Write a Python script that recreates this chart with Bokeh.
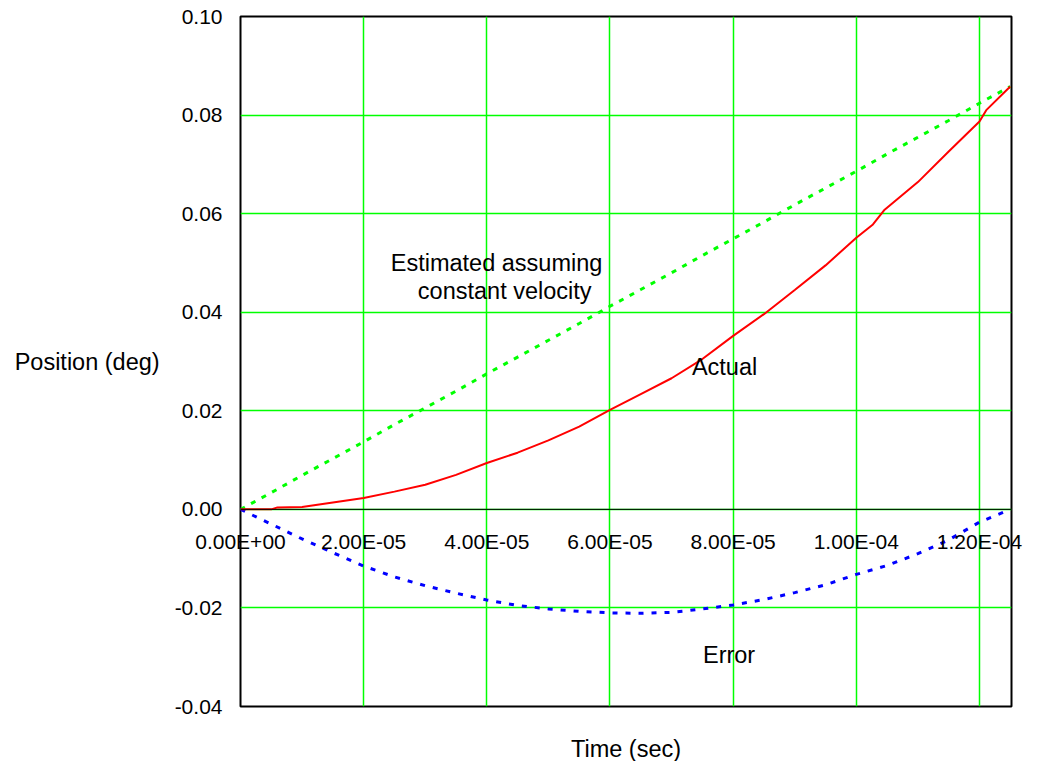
import numpy as np
from bokeh.plotting import figure
from bokeh.models import (FixedTicker, CustomJSTickFormatter,
                          NumeralTickFormatter, Label, Range1d, Span)
from bokeh.embed import file_html
from bokeh.resources import INLINE

# ---- data ----
time_us = [0, 5, 10, 15, 20, 25, 30, 35, 40, 45, 50, 55, 60, 65, 70, 75, 80,
           85, 90, 95, 100, 105, 110, 115, 120, 125]
actual_time_us = [0, 5, 6, 10, 15, 20, 25, 30, 35, 40, 45, 50, 55, 60, 65, 70,
                  75, 80, 85, 90, 95, 100, 102.7, 104.6, 110, 115, 120, 121.1,
                  125]
actual = [0.0, 0.0000, 0.0004, 0.0005, 0.0014, 0.0023, 0.0036, 0.0050, 0.0070,
          0.0094, 0.0115, 0.0140, 0.0168, 0.0202, 0.0234, 0.0266, 0.0305,
          0.0352, 0.0396, 0.0445, 0.0495, 0.0551, 0.0578, 0.0608, 0.0664,
          0.0726, 0.0787, 0.0810, 0.0858]
estimated = [0.0, 0.0034, 0.0069, 0.0103, 0.0137, 0.0172, 0.0206, 0.0240,
             0.0275, 0.0309, 0.0343, 0.0377, 0.0412, 0.0446, 0.0480, 0.0515,
             0.0549, 0.0583, 0.0618, 0.0652, 0.0686, 0.0721, 0.0755, 0.0789,
             0.0824, 0.0858]
error = [0.0, -0.0030, -0.0060, -0.0088, -0.0115, -0.0137, -0.0155, -0.0170,
         -0.0184, -0.0195, -0.0202, -0.0207, -0.0210, -0.0211, -0.0209,
         -0.0202, -0.0194, -0.0183, -0.0169, -0.0153, -0.0132, -0.0114,
         -0.0090, -0.0062, -0.0026, 0.0]
x_ticks = [0.0, 2e-5, 4e-5, 6e-5, 8e-5, 1e-4, 1.2e-4]
y_ticks = [-0.04, -0.02, 0.0, 0.02, 0.04, 0.06, 0.08, 0.10]
x_label = "Time (sec)"
y_label = "Position (deg)"
annotations = [("Estimated assuming", 2.44e-5, 0.0500),
               ("constant velocity", 2.88e-5, 0.0444),
               ("Actual", 7.33e-5, 0.0289),
               ("Error", 7.51e-5, -0.0296)]

t = np.array(time_us) * 1e-6
t_act = np.array(actual_time_us) * 1e-6

FONT = "Liberation Sans"

p = figure(frame_width=771, frame_height=690,
           min_border_left=240, min_border_right=18,
           min_border_top=16, min_border_bottom=46,
           x_range=Range1d(0, 1.252e-4), y_range=Range1d(-0.04, 0.10),
           output_backend="svg", toolbar_location=None,
           background_fill_color="white", border_fill_color="white")

p.outline_line_color = "black"
p.outline_line_width = 2

# grids
p.xgrid.ticker = FixedTicker(ticks=x_ticks)
p.ygrid.ticker = FixedTicker(ticks=y_ticks)
for g in (p.xgrid, p.ygrid):
    g.grid_line_color = "#00FF00"
    g.grid_line_width = 1.5

# zero line
p.add_layout(Span(location=0.0, dimension="width", line_color="black",
                  line_width=1))

# bottom axis: tick labels pulled up to the y = 0 line, axis label below frame
xa = p.xaxis[0]
xa.ticker = FixedTicker(ticks=x_ticks)
xa.formatter = CustomJSTickFormatter(code="""
const s = tick.toExponential(2);
const parts = s.split('e');
const sign = parts[1][0];
let d = parts[1].slice(1);
if (d.length < 2) d = '0' + d;
return parts[0] + 'E' + sign + d;
""")
xa.axis_line_color = None
xa.major_tick_line_color = None
xa.minor_tick_line_color = None
xa.major_tick_in = 0
xa.major_tick_out = 0
xa.major_label_text_font = FONT
xa.major_label_text_font_size = "21px"
xa.major_label_text_color = "black"
xa.major_label_standoff = -177
xa.axis_label = x_label
xa.axis_label_text_font = FONT
xa.axis_label_text_font_size = "23.5px"
xa.axis_label_text_font_style = "normal"
xa.axis_label_text_color = "black"
xa.axis_label_standoff = 180

# y axis
ya = p.yaxis[0]
ya.ticker = FixedTicker(ticks=y_ticks)
ya.formatter = NumeralTickFormatter(format="0.00")
ya.axis_line_color = None
ya.major_tick_line_color = None
ya.minor_tick_line_color = None
ya.major_tick_in = 0
ya.major_tick_out = 0
ya.major_label_text_font = FONT
ya.major_label_text_font_size = "21px"
ya.major_label_text_color = "black"
ya.major_label_standoff = 18
ya.axis_label = y_label
ya.axis_label_orientation = "horizontal"
ya.axis_label_text_font = FONT
ya.axis_label_text_font_size = "23.5px"
ya.axis_label_text_font_style = "normal"
ya.axis_label_text_color = "black"
ya.axis_label_standoff = 12

# series
p.line(t, estimated, line_color="#00FF00", line_width=3, line_dash="5 7")
p.line(t, error, line_color="#0000FF", line_width=3, line_dash="5 8")
p.line(t_act, actual, line_color="#FF0000", line_width=2)

for txt, x, y in annotations:
    p.add_layout(Label(x=x, y=y, text=txt, text_font=FONT,
                       text_font_size="23.5px", text_color="black",
                       text_align="left", text_baseline="alphabetic"))

open("out.html", "w").write(file_html(p, INLINE))
